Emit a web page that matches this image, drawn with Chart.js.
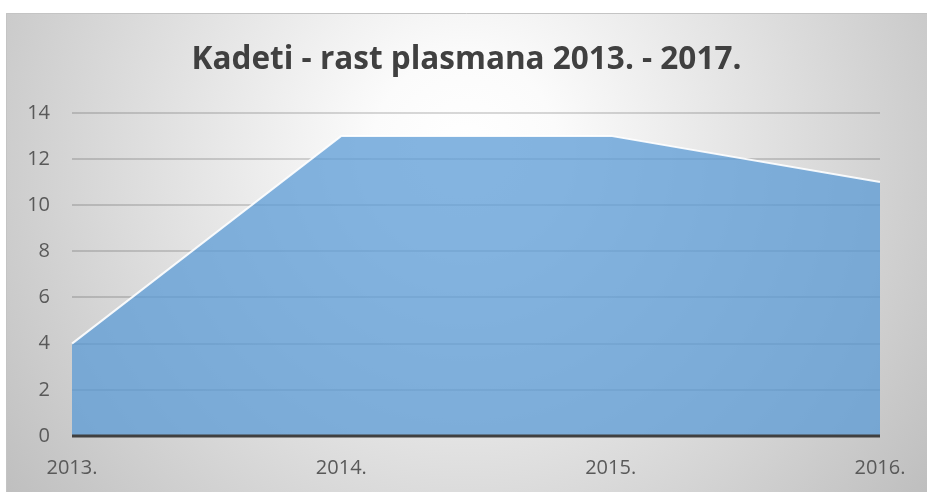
<!DOCTYPE html>
<html>
<head>
<meta charset="utf-8">
<script src="https://cdn.jsdelivr.net/npm/chart.js@4/dist/chart.umd.min.js"></script>
<style>
  html,body{margin:0;padding:0;background:#ffffff;}
  #wrap{width:927px;height:492px;position:relative;}
</style>
</head>
<body>
<div id="wrap"><canvas id="c" width="927" height="492"></canvas></div>
<script>
const titleText = 'Kadeti - rast plasmana 2013. - 2017.';
const categories = ['2013.', '2014.', '2015.', '2016.'];
const plasman = [4, 13, 13, 11];
const yMin = 0, yMax = 14, yStep = 2;

const bgPlugin = {
  id: 'bgPlugin',
  beforeDraw(chart) {
    const ctx = chart.ctx;
    const x0 = 6, y0 = 13, x1 = chart.width, y1 = chart.height;
    ctx.save();
    const g = ctx.createRadialGradient(465, 150, 0, 465, 150, 620);
    g.addColorStop(0, '#ffffff');
    g.addColorStop(0.15, '#fbfbfb');
    g.addColorStop(1, '#b9b9b9');
    ctx.fillStyle = g;
    ctx.fillRect(x0, y0, x1 - x0, y1 - y0);
    ctx.strokeStyle = '#c4c4c4';
    ctx.lineWidth = 1;
    ctx.beginPath();
    ctx.moveTo(x0 + 0.5, y1);
    ctx.lineTo(x0 + 0.5, y0 + 0.5);
    ctx.lineTo(x1, y0 + 0.5);
    ctx.stroke();
    ctx.restore();
  }
};

const zeroLine = {
  id: 'zeroLine',
  afterDatasetsDraw(chart) {
    const ctx = chart.ctx, y = chart.scales.y.getPixelForValue(0);
    const a = chart.chartArea;
    ctx.save();
    ctx.strokeStyle = '#404040';
    ctx.lineWidth = 3;
    ctx.beginPath();
    ctx.moveTo(a.left, y);
    ctx.lineTo(a.right, y);
    ctx.stroke();
    ctx.restore();
  }
};

new Chart(document.getElementById('c'), {
  type: 'line',
  data: {
    labels: categories,
    datasets: [{
      data: plasman,
      fill: 'origin',
      backgroundColor: 'rgba(91,155,213,0.75)',
      borderColor: 'rgba(255,255,255,0.9)',
      borderWidth: 2,
      pointRadius: 0,
      tension: 0
    }]
  },
  options: {
    responsive: false,
    animation: false,
    devicePixelRatio: 1,
    layout: { padding: { left: 6, right: 0, top: 13, bottom: 0 } },
    plugins: {
      legend: { display: false },
      tooltip: { enabled: false },
      title: {
        display: true,
        text: titleText,
        color: '#404040',
        font: { family: 'Open Sans', size: 31.5, weight: 'bold' },
        padding: { top: 28, bottom: 34 }
      }
    },
    scales: {
      x: {
        offset: false,
        afterFit(s) { s.height = 56; s.paddingRight = 47; },
        grid: { display: false, drawTicks: false },
        border: { display: false },
        ticks: { color: '#595959', font: { family: 'Open Sans', size: 20 }, padding: 20, maxRotation: 0, autoSkip: false }
      },
      y: {
        min: yMin, max: yMax,
        afterFit(s) { s.width = 66; },
        grid: { color: 'rgba(0,0,0,0.15)', lineWidth: 2, drawTicks: false },
        border: { display: false },
        ticks: { stepSize: yStep, color: '#595959', font: { family: 'Open Sans', size: 20 }, padding: 22 }
      }
    }
  },
  plugins: [bgPlugin, zeroLine]
});
</script>
</body>
</html>
